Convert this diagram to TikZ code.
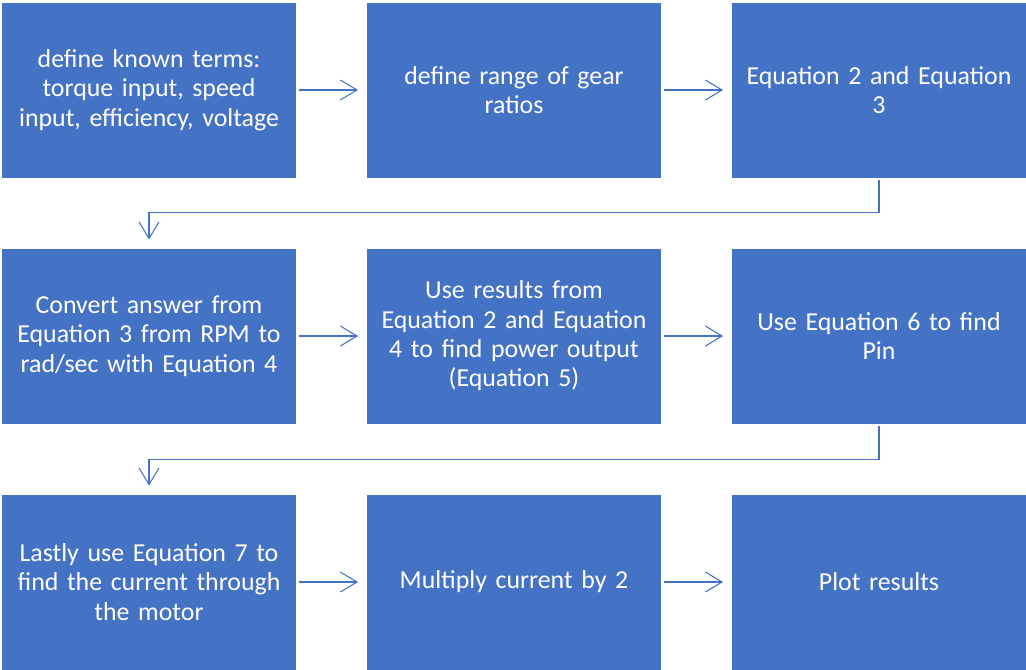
\documentclass[tikz,border=0pt]{standalone}
\usepackage{fontspec}
\setmainfont{Carlito}
\usetikzlibrary{arrows.meta}
\definecolor{boxblue}{HTML}{4472C4}

\begin{document}
\begin{tikzpicture}
          [x=0.75pt,y=-0.75pt,
           every node/.style={fill=boxblue, text=white, minimum width=220.5pt, minimum height=131.25pt,
             inner sep=0pt, text width=216pt, align=center, font=\fontsize{19.4}{22}\selectfont},
           link/.style={draw=boxblue, line width=0.8pt, -{Straight Barb[length=12.5pt,width=15pt]},
             shorten <=2pt, shorten >=6.5pt}]
        \useasboundingbox (0,0) rectangle (1026,669);
        \node (n1) at (149,90) {define known terms:\\ torque input, speed\\ input, efficiency, voltage};
        \node (n2) at (514,90) {define range of gear\\ ratios};
        \node (n3) at (879,90) {Equation 2 and Equation\\ 3};
        \node (n4) at (149,336) {Convert answer from\\ Equation 3 from RPM to\\ rad/sec with Equation 4};
        \node (n5) at (514,336) {Use results from\\ Equation 2 and Equation\\ 4 to find power output\\ (Equation 5)};
        \node (n6) at (879,336) {Use Equation 6 to find\\ Pin};
        \node (n7) at (149,582) {Lastly use Equation 7 to\\ find the current through\\ the motor};
        \node (n8) at (514,582) {Multiply current by 2};
        \node (n9) at (879,582) {Plot results};

        \coordinate (b1) at (149,212.5);
        \coordinate (b2) at (149,459.5);

        \foreach \from/\to in {n1/n2, n2/n3, n4/n5, n5/n6, n7/n8, n8/n9}
          \draw[link] (\from) -- (\to);

        \draw[link] (n3.south) |- (b1) -- (n4.north);
        \draw[link] (n6.south) |- (b2) -- (n7.north);
      \end{tikzpicture}
\end{document}
